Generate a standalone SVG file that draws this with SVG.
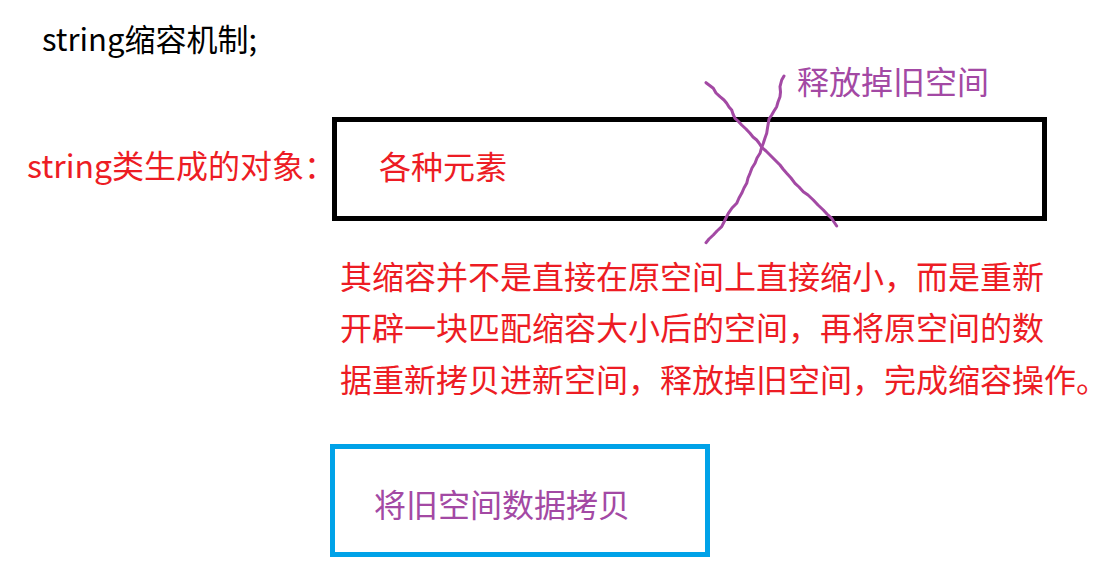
<svg xmlns="http://www.w3.org/2000/svg" width="1120" height="578" viewBox="0 0 1120 578">
<style>
text{font-family:"Noto Sans CJK SC","Noto Sans",sans-serif;font-size:32px}
.blk{fill:#000}
.red{fill:#ED1C24}
.pur{fill:#A349A4}
.box{fill:none;stroke-width:5}
.x{fill:none;stroke:#A349A4;stroke-width:3;stroke-linejoin:round;stroke-linecap:round}
</style>
<rect width="1120" height="578" fill="#fff"/>
<g id="title"><text class="blk" x="42" y="51" style="font-size:31px">string缩容机制;</text></g>
<g id="label"><text class="red" x="27" y="178">string类生成的对象：</text></g>
<g id="object-box">
<rect class="box" x="334.5" y="119.5" width="710" height="99" stroke="#000"/>
<text class="red" x="379" y="179">各种元素</text>
</g>
<g id="release-label"><text class="pur" x="797" y="94">释放掉旧空间</text></g>
<g id="explanation">
<text class="red" x="340" y="289">其缩容并不是直接在原空间上直接缩小，而是重新</text>
<text class="red" x="340" y="340">开辟一块匹配缩容大小后的空间，再将原空间的数</text>
<text class="red" x="340" y="392">据重新拷贝进新空间，释放掉旧空间，完成缩容操作。</text>
</g>
<g id="copy-box">
<rect class="box" x="332.5" y="446.5" width="375" height="108" stroke="#00A2E8"/>
<text class="pur" x="374" y="517">将旧空间数据拷贝</text>
</g>
<g id="connectors">
<polyline class="x" points="706,82.7 709,85 713.3,88.3 716,93 720,96.7 724,100 726.7,103.3 729,107 731.7,110 733,114 735,118.3 738,121 741.7,125 746,129 750,133.3 753,137 756.7,140 759,143 761.7,147.3 766,151 770,155 775,160 780,165 783,169 786.7,173.3 791,178 795,183.3 799,187 803.3,191.7 808,195 813.3,200 818,205 823.3,210 827,214 831.7,218.3 834,222 836.7,226"/>
<polyline class="x" points="784,76 781.7,80 780,86.7 780.5,92 780,96.7 778,102 776.7,106.7 774,111 771.7,115 769,119 768.3,123.3 767.5,128 766.7,133.3 765,138 763.3,143.3 761.5,148 760,153.3 757,158 755,163.3 752,168 750,173.3 748,178 746.7,183.3 744,188 741.7,193.3 739,198 736.7,203.3 732,208 728.3,213.3 725,220 721.7,226.7 717,231 713.3,235 709,239 706,242.7"/>
</g>
</svg>
